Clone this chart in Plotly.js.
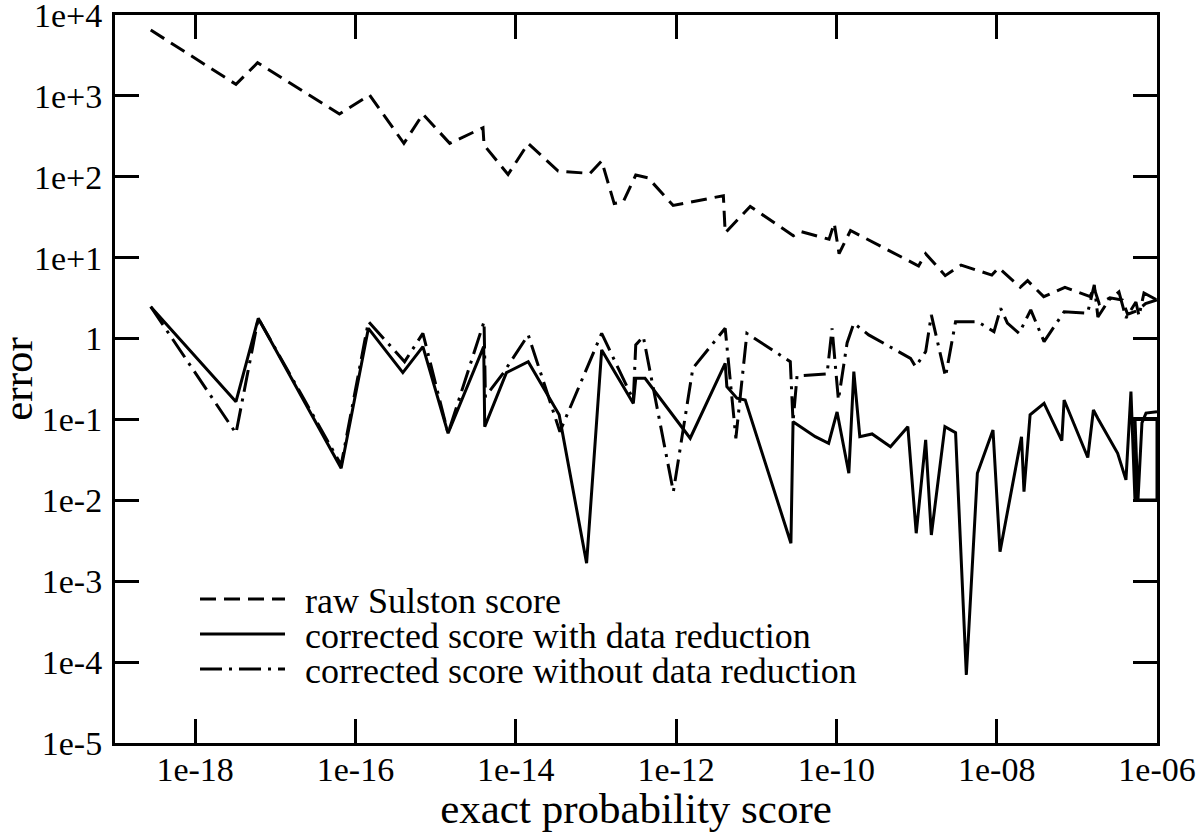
<!DOCTYPE html>
<html>
<head>
<meta charset="utf-8">
<script src="https://cdn.plot.ly/plotly-3.0.1.min.js"></script>
<style>
  html, body { margin: 0; padding: 0; background: #ffffff; }
  #chart { width: 1200px; height: 832px; }
</style>
</head>
<body>
<div id="chart"></div>
<script>
// ---- data ----
const seriesNames = [
  "raw Sulston score",
  "corrected score with data reduction",
  "corrected score without data reduction"
];

const xRaw = [2.79e-19, 3.23e-18, 6.0e-18, 6.31e-17, 1.5e-16, 4.02e-16, 6.94e-16, 1.5e-15,
  3.9e-15, 4.02e-15, 8.01e-15, 1.43e-14, 3.38e-14, 8.41e-14, 1.18e-13, 1.69e-13, 2.19e-13,
  3.14e-13, 4.49e-13, 9.2e-13, 3.89e-12, 4.1e-12, 8.41e-12, 2.9e-11, 3.55e-11, 8.1e-11,
  9.4e-11, 1.08e-10, 1.5e-10, 1.06e-9, 1.3e-9, 2.28e-9, 3.6e-9, 8.7e-9, 1.06e-8, 1.97e-8,
  2.43e-8, 3.86e-8, 7.1e-8, 1.47e-7, 1.63e-7, 1.9e-7, 2.58e-7, 3.7e-7, 4.3e-7, 5.6e-7,
  7.2e-7, 1e-6];
const yRaw = [6530, 1390, 2570, 597, 1026, 259, 597, 259,
  405, 247, 107, 259, 118, 110, 157, 46.7, 49.1,
  105, 96.9, 44.3, 58.4, 20.3, 43, 18.7, 21.1, 16.9,
  26.7, 11.2, 21.7, 7.9, 11.2, 6.0, 8.1, 6.1, 7.5, 4.3,
  5.2, 3.3, 4.3, 3.3, 4.3, 2.7, 3.2, 3.0, 2.0, 2.2,
  2.7, 3.0];

const xReduced = [2.79e-19, 3.23e-18, 6.13e-18, 6.63e-17, 1.45e-16, 3.9e-16, 6.94e-16, 1.43e-15,
  3.98e-15, 4.1e-15, 7.65e-15, 1.43e-14, 3.48e-14, 7.65e-14, 1.18e-13, 2.93e-13, 3.14e-13,
  4.1e-13, 1.5e-12, 4.1e-12, 4.3e-12, 5.74e-12, 7.29e-12, 2.71e-11, 2.88e-11, 5.46e-11,
  8.01e-11, 1.02e-10, 1.43e-10, 1.65e-10, 1.96e-10, 2.79e-10, 4.73e-10, 7.79e-10, 9.91e-10,
  1.3e-9, 1.53e-9, 2.26e-9, 3.07e-9, 4.18e-9, 5.74e-9, 8.99e-9, 1.1e-8, 2.04e-8, 2.19e-8,
  2.61e-8, 3.9e-8, 6.49e-8, 6.94e-8, 1.37e-7, 1.61e-7, 1.83e-7, 3.23e-7, 4.1e-7, 4.73e-7,
  5.31e-7, 1e-6, 1e-6, 5.31e-7, 5.79e-7, 6.49e-7, 7.29e-7, 1e-6];
const yReduced = [2.48, 0.166, 1.78, 0.0249, 1.34, 0.379, 0.794, 0.0675,
  0.794, 0.0815, 0.379, 0.518, 0.114, 0.00167, 0.723, 0.158, 0.323,
  0.323, 0.0586, 0.495, 0.254, 0.183, 0.174, 0.00295, 0.094, 0.0612,
  0.0508, 0.124, 0.0216, 0.39, 0.0612, 0.0662, 0.0461, 0.0815, 0.00392,
  0.0558, 0.00373, 0.0815, 0.0687, 0.0000695, 0.0216, 0.0741, 0.00232, 0.0612, 0.0128,
  0.114, 0.158, 0.0547, 0.174, 0.0339, 0.131, 0.103, 0.0382, 0.0179, 0.221,
  0.0101, 0.0101, 0.103, 0.103, 0.0101, 0.0906, 0.12, 0.125];

const xNoReduction = [2.79e-19, 3.23e-18, 6.13e-18, 6.63e-17, 1.45e-16, 4.1e-16, 6.94e-16, 1.43e-15,
  4.02e-15, 4.18e-15, 6.94e-15, 1.43e-14, 3.55e-14, 1.18e-13, 2.93e-13, 3.14e-13, 3.9e-13,
  9.25e-13, 1.62e-12, 4.1e-12, 5.57e-12, 7.65e-12, 2.66e-11, 2.88e-11, 3.23e-11, 7.65e-11,
  8.83e-11, 1.06e-10, 1.36e-10, 1.65e-10, 2.53e-10, 8.41e-10, 9.72e-10, 1.3e-9, 1.53e-9,
  2.3e-9, 3.07e-9, 5.74e-9, 9.25e-9, 1.12e-8, 1.36e-8, 1.9e-8, 2.66e-8, 3.9e-8, 6.94e-8,
  1.36e-7, 1.65e-7, 1.83e-7, 2.51e-7, 3.35e-7, 4.1e-7, 5.46e-7, 5.96e-7, 6.88e-7, 1e-6];
const yNoReduction = [2.48, 0.0675, 1.78, 0.0274, 1.62, 0.518, 1.16, 0.0675,
  1.62, 0.191, 0.372, 1.11, 0.0706, 1.16, 0.174, 0.834, 1.06,
  0.0128, 0.43, 1.34, 0.0586, 1.16, 0.518, 0.094, 0.345, 0.365,
  1.34, 0.174, 0.883, 1.55, 1.11, 0.57, 0.45, 0.689, 1.96,
  0.338, 1.62, 1.62, 1.22, 2.37, 1.55, 1.16, 2.26, 0.916, 2.15,
  2.06, 4.6, 1.85, 3.0, 3.77, 1.8, 2.83, 1.9, 3.66, 3.0];

const xTickVals = [1e-18, 1e-16, 1e-14, 1e-12, 1e-10, 1e-8, 1e-6];
const xTickText = ["1e-18", "1e-16", "1e-14", "1e-12", "1e-10", "1e-08", "1e-06"];
const yTickVals = [1e-5, 1e-4, 1e-3, 1e-2, 1e-1, 1, 1e1, 1e2, 1e3, 1e4];
const yTickText = ["1e-5", "1e-4", "1e-3", "1e-2", "1e-1", "1", "1e+1", "1e+2", "1e+3", "1e+4"];

const xTitle = "exact probability score";
const yTitle = "error";

// ---- chart ----
const FONT = "'Liberation Serif', 'Times New Roman', serif";

const traces = [
  { x: xRaw, y: yRaw, name: seriesNames[0], mode: "lines", type: "scatter",
    line: { color: "#000", width: 3, dash: "16px,8px" } },
  { x: xReduced, y: yReduced, name: seriesNames[1], mode: "lines", type: "scatter",
    line: { color: "#000", width: 3 } },
  { x: xNoReduction, y: yNoReduction, name: seriesNames[2], mode: "lines", type: "scatter",
    line: { color: "#000", width: 3, dash: "22px,7px,3px,7px" } }
];

const axisCommon = {
  type: "log",
  showgrid: false,
  zeroline: false,
  showline: true,
  linecolor: "#000",
  linewidth: 3,
  mirror: "ticks",
  ticks: "inside",
  ticklen: 24,
  tickwidth: 3,
  tickcolor: "#000",
  tickfont: { family: FONT, size: 34, color: "#000" },
  ticklabeloverflow: "allow",
  automargin: false
};

const layout = {
  width: 1200,
  height: 832,
  paper_bgcolor: "#fff",
  plot_bgcolor: "#fff",
  margin: { l: 115, r: 43, t: 15, b: 89, pad: 0 },
  showlegend: true,
  legend: {
    x: (195 - 115) / 1042,
    y: 1 - (569 - 15) / 728,
    xanchor: "left",
    yanchor: "top",
    bgcolor: "rgba(0,0,0,0)",
    borderwidth: 0,
    itemwidth: 100,
    tracegroupgap: 0,
    font: { family: FONT, size: 36, color: "#000" }
  },
  xaxis: Object.assign({}, axisCommon, {
    range: [-19, -6],
    tickmode: "array",
    tickvals: xTickVals,
    ticktext: xTickText,
    ticklabelstandoff: -6,
    title: { text: xTitle, font: { family: FONT, size: 43, color: "#000" }, standoff: 0 }
  }),
  yaxis: Object.assign({}, axisCommon, {
    range: [-5, 4.0005],
    tickmode: "array",
    tickvals: yTickVals,
    ticktext: yTickText,
    ticklabelstandoff: 3,
    title: { text: yTitle, font: { family: FONT, size: 43, color: "#000" }, standoff: 0 }
  })
};

Plotly.newPlot("chart", traces, layout, { displayModeBar: false, staticPlot: true }).then(function (gd) {
  // lengthen legend line samples and tighten legend rows to match the reference
  document.querySelectorAll("#chart .legendlines path").forEach(function (p) {
    p.setAttribute("d", "M5,0h85");
  });
  const items = document.querySelectorAll("#chart .legend .traces");
  let x0 = null, y0 = null;
  items.forEach(function (g, i) {
    const m = /translate\(\s*([-\d.]+)[ ,]+([-\d.]+)\s*\)/.exec(g.getAttribute("transform") || "");
    if (!m) return;
    if (x0 === null) { x0 = parseFloat(m[1]); y0 = parseFloat(m[2]); }
    g.setAttribute("transform", "translate(" + x0 + "," + (y0 + i * 35) + ")");
  });
  // nudge the y-axis title slightly toward the page edge, keeping its own transform
  const yt = document.querySelector("#chart .g-ytitle");
  if (yt) {
    const t = yt.getAttribute("transform") || "";
    yt.setAttribute("transform", "translate(-6,0) " + t);
  }
});
</script>
</body>
</html>
